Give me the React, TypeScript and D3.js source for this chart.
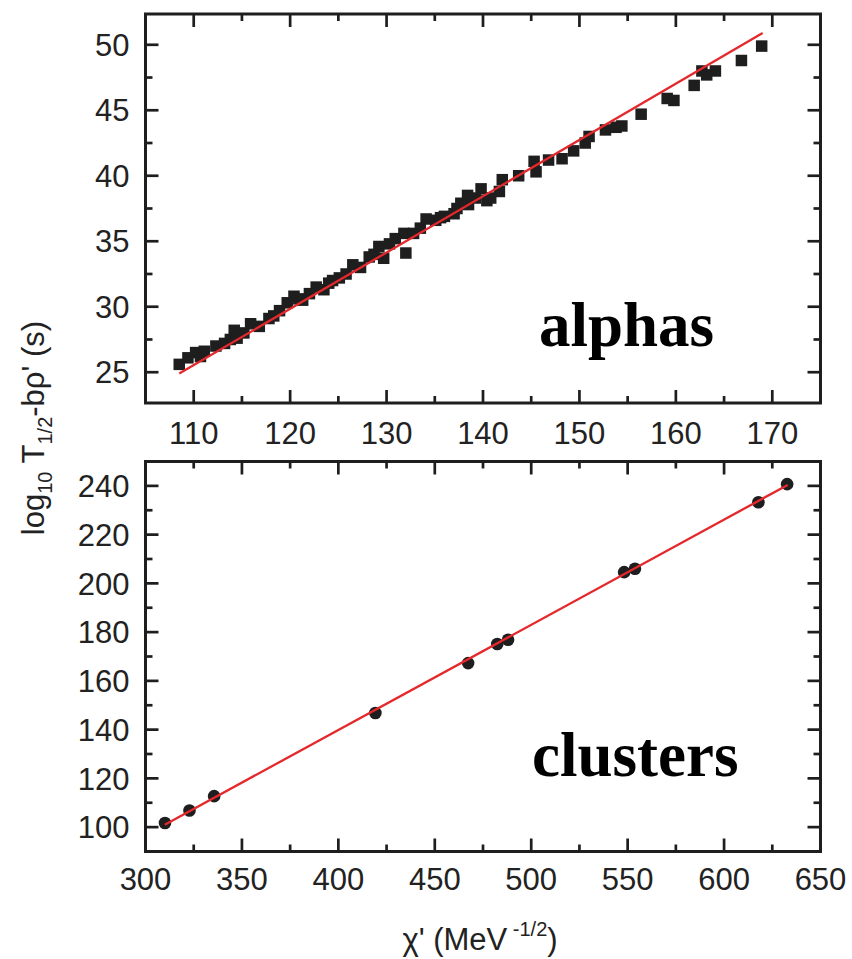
import React from "react";
import * as d3 from "d3";

// ---- data ----
const alphaX = [
  108.5, 109.4, 110.2, 110.7, 111.1, 112.3, 113.2, 113.8, 114.2, 114.5, 115.2, 115.9, 116.8, 117.8, 118.3,
  118.9, 119.7, 120.4, 120.9, 121.3, 122.0, 122.7, 123.5, 124.0, 124.4, 125.1, 125.8, 126.5, 127.3, 128.2,
  128.7, 129.2, 129.7, 130.3, 130.9, 131.8, 132.0, 132.8, 133.5, 134.1, 135.1, 135.6, 136.0, 137.0, 137.3,
  137.7, 138.4, 138.5, 139.2, 139.8, 140.4, 140.8, 141.7, 142.0, 143.7, 145.3, 145.5, 146.8, 148.2, 149.4,
  150.6, 151.0, 152.7, 153.8, 154.4, 156.4, 159.1, 159.8, 161.9, 162.7, 163.2, 164.1, 166.8, 168.9,
];
const alphaY = [
  25.6, 26.1, 26.5, 26.2, 26.6, 27.0, 27.2, 27.5, 28.2, 27.6, 28.0, 28.7, 28.5, 29.1, 29.3,
  29.7, 30.3, 30.8, 30.6, 30.5, 31.0, 31.5, 31.3, 31.8, 32.0, 32.2, 32.5, 33.2, 33.0, 33.8,
  34.0, 34.6, 33.7, 34.8, 35.2, 35.6, 34.1, 35.6, 36.0, 36.7, 36.6, 36.8, 36.9, 37.1, 37.5,
  37.9, 38.5, 37.8, 38.3, 39.0, 38.1, 38.3, 38.8, 39.7, 40.0, 41.1, 40.3, 41.2, 41.3, 41.9,
  42.5, 43.0, 43.5, 43.7, 43.8, 44.7, 45.9, 45.75, 46.9, 48.0, 47.7, 48.0, 48.8, 49.9,
];
const alphaFitX = [108.5, 169];
const alphaFitY = [24.9, 50.9];

const clusterX = [310.1, 322.8, 335.6, 419.2, 467.3, 482.4, 488.0, 548.2, 553.8, 617.8, 632.7];
const clusterY = [101.7, 106.8, 112.7, 146.8, 167.3, 175.1, 176.9, 204.6, 206.0, 233.3, 240.7];
const clusterFitX = [310, 633];
const clusterFitY = [101.0, 240.4];

const alphaXTicks = [110, 120, 130, 140, 150, 160, 170];
const alphaYTicks = [25, 30, 35, 40, 45, 50];
const clusterXTicks = [300, 350, 400, 450, 500, 550, 600, 650];
const clusterYTicks = [100, 120, 140, 160, 180, 200, 220, 240];

// ---- styling ----
const INK = "#1e1e1e";
const RED = "#e5282c";
const SANS = "'Liberation Sans', Arial, Helvetica, sans-serif";
const SERIF = "'Liberation Serif', 'Times New Roman', Times, serif";
const TICK_FS = 31;

type PanelProps = {
  x: d3.ScaleLinear<number, number>;
  y: d3.ScaleLinear<number, number>;
  xMajor: number[];
  xMinor: number[];
  yMajor: number[];
  yMinor: number[];
};

function Frame({ x, y, xMajor, xMinor, yMajor, yMinor }: PanelProps) {
  const [x0, x1] = x.range();
  const [y0, y1] = y.range(); // y0 bottom, y1 top
  const MAJ = 13;
  const MIN = 7;
  const lines: JSX.Element[] = [];
  const addX = (v: number, len: number, k: string) => {
    const px = x(v);
    lines.push(<line key={"xb" + k} x1={px} x2={px} y1={y0} y2={y0 - len} />);
    lines.push(<line key={"xt" + k} x1={px} x2={px} y1={y1} y2={y1 + len} />);
  };
  const addY = (v: number, len: number, k: string) => {
    const py = y(v);
    lines.push(<line key={"yl" + k} x1={x0} x2={x0 + len} y1={py} y2={py} />);
    lines.push(<line key={"yr" + k} x1={x1} x2={x1 - len} y1={py} y2={py} />);
  };
  xMajor.forEach((v, i) => addX(v, MAJ, "M" + i));
  xMinor.forEach((v, i) => addX(v, MIN, "m" + i));
  yMajor.forEach((v, i) => addY(v, MAJ, "M" + i));
  yMinor.forEach((v, i) => addY(v, MIN, "m" + i));
  return (
    <g>
      <g stroke={INK} strokeWidth={2.7} strokeLinecap="butt">
        {lines}
      </g>
      <rect x={x0} y={y1} width={x1 - x0} height={y0 - y1} fill="none" stroke={INK} strokeWidth={3} />
      <g fontFamily={SANS} fontSize={TICK_FS} fill="#222">
        {yMajor.map((v) => (
          <text key={"yl" + v} x={x0 - 16} y={y(v)} dy="0.36em" textAnchor="end">
            {v}
          </text>
        ))}
      </g>
    </g>
  );
}

function inner(domain: number[], step: number, major: number[]) {
  const out: number[] = [];
  const start = Math.ceil(domain[0] / step) * step;
  for (let v = start; v <= domain[1] + 1e-9; v += step) {
    const r = Math.round(v * 1000) / 1000;
    if (r <= domain[0] + 1e-6 || r >= domain[1] - 1e-6) continue;
    if (major.some((m) => Math.abs(m - r) < 1e-6)) continue;
    out.push(r);
  }
  return out;
}

export default function App() {
  const left = 145.5;
  const right = 820.5;

  // top panel (alphas)
  const xA = d3.scaleLinear().domain([105, 175]).range([left, right]);
  const yA = d3.scaleLinear().domain([22.65, 52.35]).range([403, 14]);
  // bottom panel (clusters)
  const xC = d3.scaleLinear().domain([300, 650]).range([left, right]);
  const yC = d3.scaleLinear().domain([90, 250]).range([851.5, 461.5]);

  const alphaXMinor = inner(xA.domain(), 5, alphaXTicks);
  const alphaYMinor = inner(yA.domain(), 2.5, alphaYTicks);
  const clusterXMajorIn = clusterXTicks.filter((v) => v > 300 && v < 650);
  const clusterXMinor = inner(xC.domain(), 25, clusterXTicks);
  const clusterYMinor = inner(yC.domain(), 10, clusterYTicks);

  const lineA = d3
    .line<number>()
    .x((d, i) => xA(alphaFitX[i]))
    .y((d) => yA(d));
  const lineC = d3
    .line<number>()
    .x((d, i) => xC(clusterFitX[i]))
    .y((d) => yC(d));

  const SQ = 11.5;

  return (
    <svg
      width={852}
      height={959}
      viewBox="0 0 852 959"
      style={{ position: "absolute", left: 0, top: 0, background: "#fff" }}
    >
      <rect x={0} y={0} width={852} height={959} fill="#fff" />

      {/* top panel */}
      <g>
        {alphaX.map((v, i) => (
          <rect key={"a" + i} x={xA(v) - SQ / 2} y={yA(alphaY[i]) - SQ / 2} width={SQ} height={SQ} fill={INK} />
        ))}
        <path d={lineA(alphaFitY) || ""} fill="none" stroke={RED} strokeWidth={2.3} />
        <Frame x={xA} y={yA} xMajor={alphaXTicks} xMinor={alphaXMinor} yMajor={alphaYTicks} yMinor={alphaYMinor} />
        <g fontFamily={SANS} fontSize={TICK_FS} fill="#222">
          {alphaXTicks.map((v) => (
            <text key={"ax" + v} x={xA(v)} y={444} textAnchor="middle">
              {v}
            </text>
          ))}
        </g>
        <text x={539} y={346} fontFamily={SERIF} fontWeight="bold" fontSize={63} fill="#000">
          alphas
        </text>
      </g>

      {/* bottom panel */}
      <g>
        {clusterX.map((v, i) => (
          <circle key={"c" + i} cx={xC(v)} cy={yC(clusterY[i])} r={6.3} fill={INK} />
        ))}
        <path d={lineC(clusterFitY) || ""} fill="none" stroke={RED} strokeWidth={2.3} />
        <Frame
          x={xC}
          y={yC}
          xMajor={clusterXMajorIn}
          xMinor={clusterXMinor}
          yMajor={clusterYTicks}
          yMinor={clusterYMinor}
        />
        <g fontFamily={SANS} fontSize={TICK_FS} fill="#222">
          {clusterXTicks.map((v) => (
            <text key={"cx" + v} x={xC(v)} y={890} textAnchor="middle">
              {v}
            </text>
          ))}
        </g>
        <text x={532} y={776} fontFamily={SERIF} fontWeight="bold" fontSize={63} fill="#000">
          clusters
        </text>
      </g>

      {/* y-axis title */}
      <text
        transform="translate(44,428) rotate(-90)"
        textAnchor="middle"
        fontFamily={SANS}
        fontSize={31}
        fill="#222"
      >
        <tspan>log</tspan>
        <tspan fontSize={20} dy={8}>10</tspan>
        <tspan dy={-8}> T</tspan>
        <tspan fontSize={20} dy={8}>1/2</tspan>
        <tspan dy={-8}>-bρ' (s)</tspan>
      </text>

      {/* x-axis title */}
      <text x={480} y={950} textAnchor="middle" fontFamily={SANS} fontSize={31} fill="#222">
        <tspan>χ' (MeV</tspan>
        <tspan fontSize={20} dy={-14}> -1/2</tspan>
        <tspan dy={14}>)</tspan>
      </text>
    </svg>
  );
}
